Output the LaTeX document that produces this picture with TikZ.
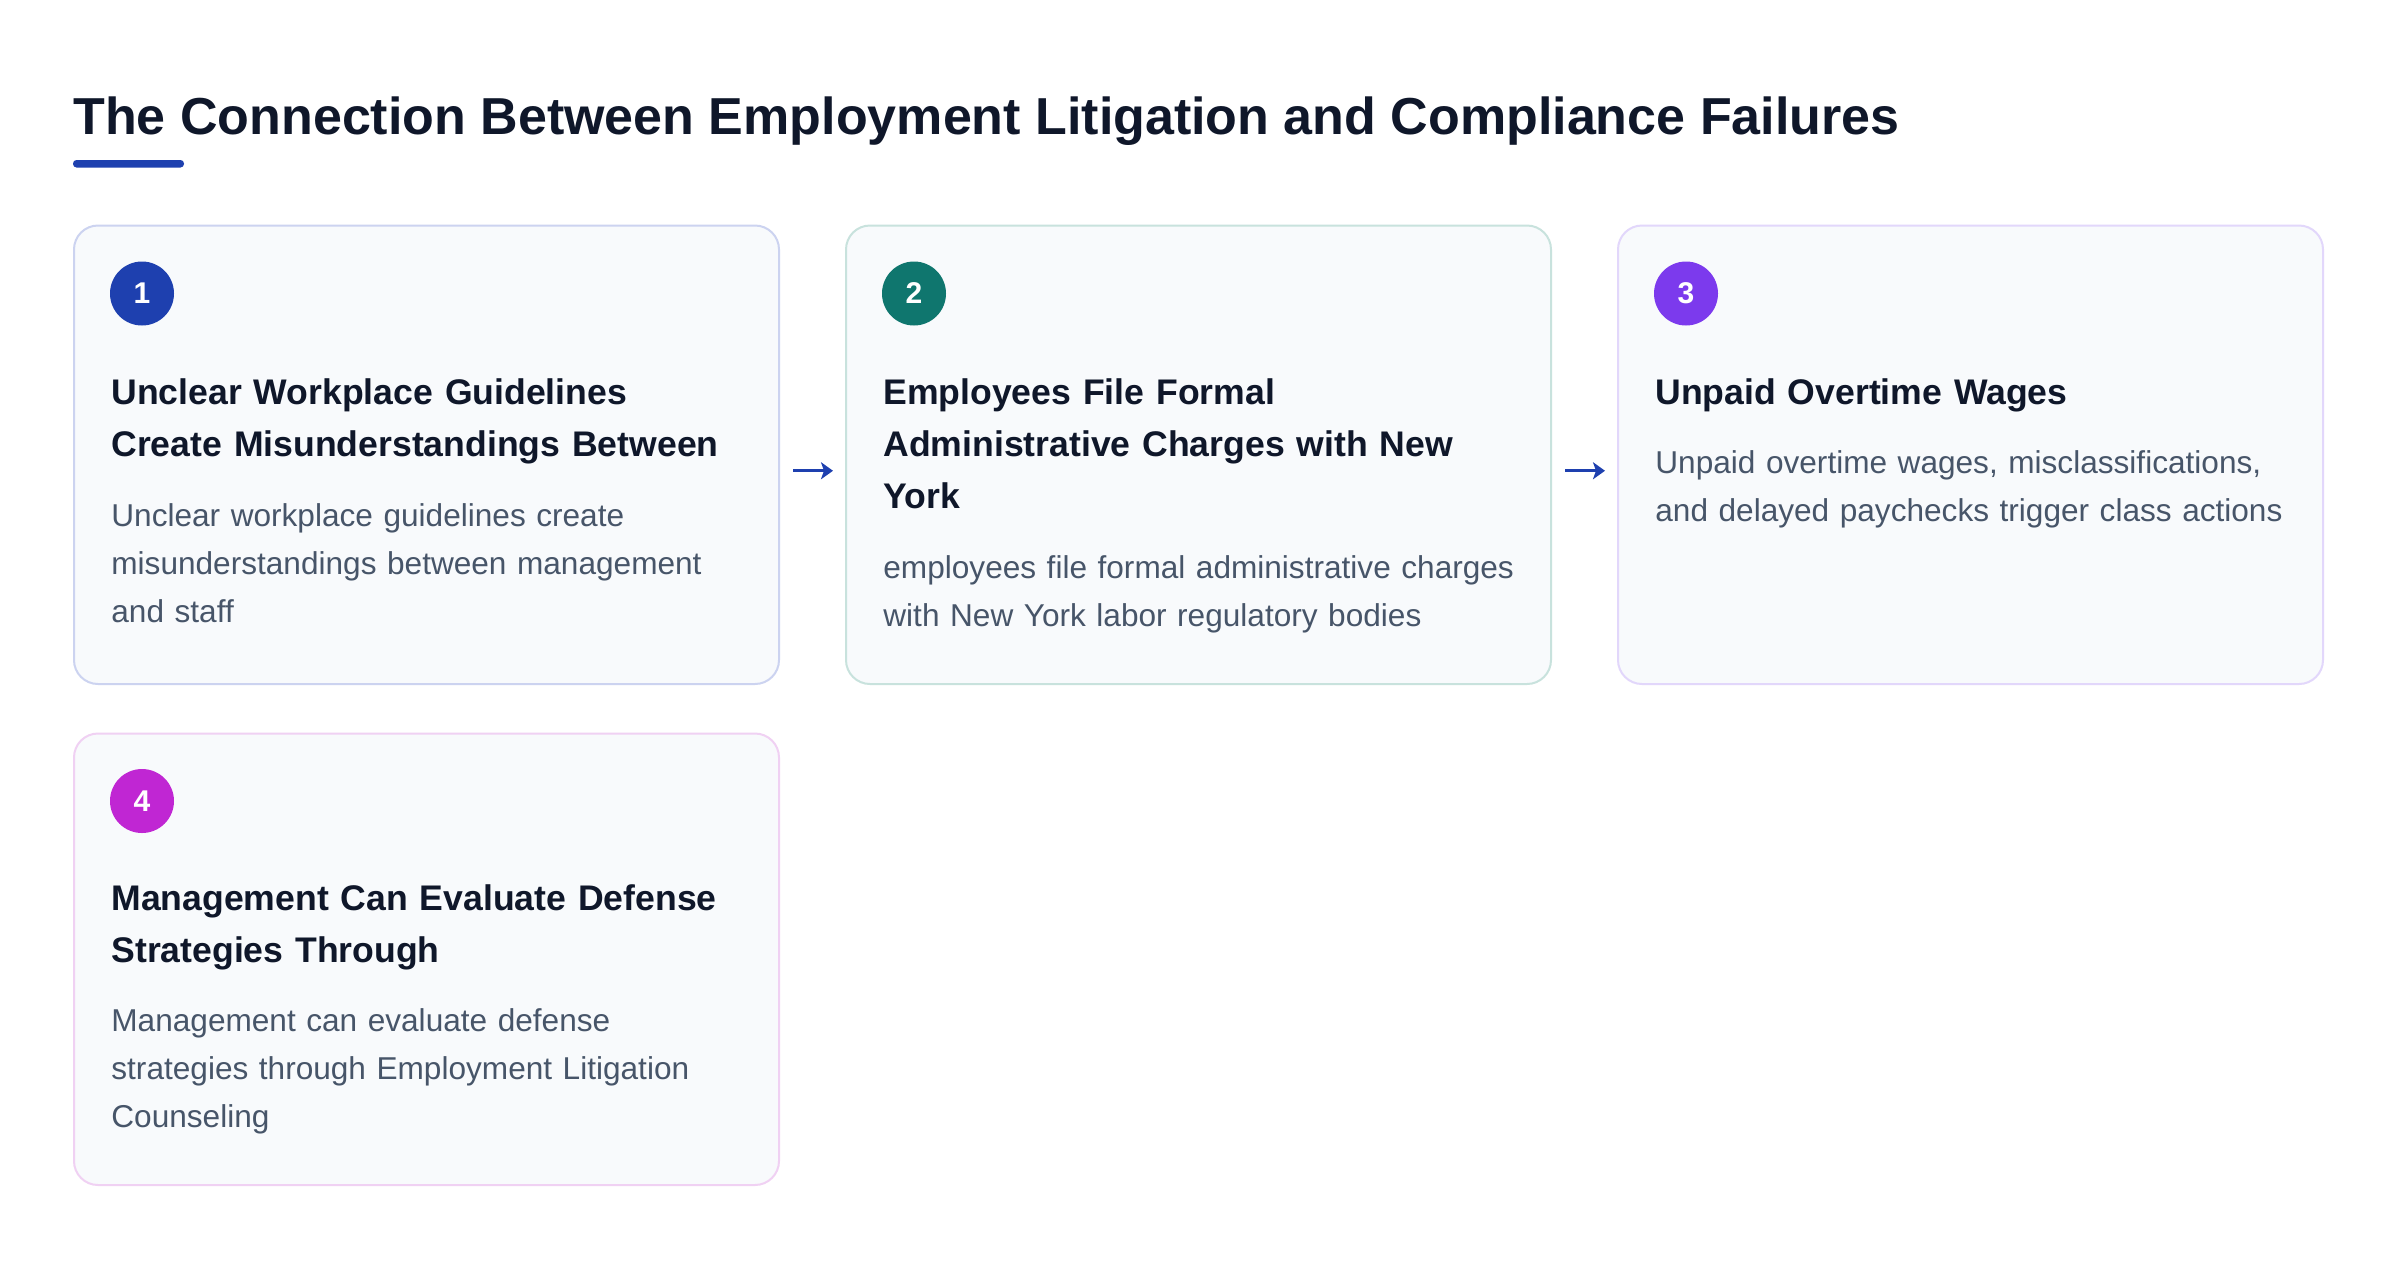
\documentclass[tikz,border=0pt]{standalone}
\usepackage{fontspec}
\setmainfont{Liberation Sans}
\usetikzlibrary{arrows.meta,calc}
\definecolor{titlec}{HTML}{0F172A}
\definecolor{headc}{HTML}{0F172A}
\definecolor{bodyc}{HTML}{475569}
\definecolor{cardfill}{HTML}{F8FAFC}
\definecolor{accent}{HTML}{1E40AF}
\definecolor{bordA}{HTML}{CCD3F0}
\definecolor{bordB}{HTML}{C8E2DD}
\definecolor{bordC}{HTML}{E2D7FB}
\definecolor{bordD}{HTML}{F0D1F3}
\definecolor{numA}{HTML}{1E40AF}
\definecolor{numB}{HTML}{0F766E}
\definecolor{numC}{HTML}{7C3AED}
\definecolor{numD}{HTML}{C026D3}
\begin{document}
\begin{tikzpicture}[x=0.5pt,y=-0.5pt,
  card/.style={draw=#1, line width=1pt, fill=cardfill, rounded corners=12pt,
    minimum width=352.5pt, anchor=north west, inner sep=0pt},
  badge/.style={circle, fill=#1, minimum size=32pt, inner sep=0pt, text=white,
    font=\bfseries\fontsize{15pt}{15pt}\selectfont},
  head/.style={anchor=base west, inner sep=0pt, text width=330pt, align=left,
    text=headc, font=\bfseries\fontsize{17.8pt}{26pt}\selectfont},
  body/.style={anchor=base west, inner sep=0pt, text width=330pt, align=left,
    text=bodyc, font=\fontsize{15.8pt}{24pt}\selectfont},
  flow/.style={draw=accent, line width=1.35pt, -{Stealth[length=6pt,width=8.5pt,inset=1.5pt]}}
]
\useasboundingbox (0,0) rectangle (2400,1260);
\fill[white] (0,0) rectangle (2400,1260);

% title
\node[anchor=base west, inner sep=0pt, text=titlec,
  font=\bfseries\fontsize{26pt}{30pt}\selectfont] (title) at (73,134)
  {The Connection Between Employment Litigation and Compliance Failures};
\fill[accent, rounded corners=1.75pt] (73,160) rectangle (184,167.5);

% cards
\node[card=bordA, minimum height=229.25pt] (c1) at (73,224.5) {};
\node[card=bordB, minimum height=229.25pt] (c2) at (845,224.5) {};
\node[card=bordC, minimum height=229.25pt] (c3) at (1617,224.5) {};
\node[card=bordD, minimum height=225.75pt] (c4) at (73,732.5) {};

% card 1
\node[badge=numA] (n1) at (142,293.5) {1};
\node[head] (h1) at (111,404) {Unclear Workplace Guidelines\\Create Misunderstandings Between};
\node[body] (b1) at (111,526) {Unclear workplace guidelines create\\misunderstandings between management\\and staff};

% card 2
\node[badge=numB] (n2) at (914,293.5) {2};
\node[head] (h2) at (883,404) {Employees File Formal\\Administrative Charges with New\\York};
\node[body] (b2) at (883,578) {employees file formal administrative charges\\with New York labor regulatory bodies};

% card 3
\node[badge=numC] (n3) at (1686,293.5) {3};
\node[head] (h3) at (1655,404) {Unpaid Overtime Wages};
\node[body] (b3) at (1655,473) {Unpaid overtime wages, misclassifications,\\and delayed paychecks trigger class actions};

% card 4
\node[badge=numD] (n4) at (142,801) {4};
\node[head] (h4) at (111,910.5) {Management Can Evaluate Defense\\Strategies Through};
\node[body] (b4) at (111,1031.5) {Management can evaluate defense\\strategies through Employment Litigation\\Counseling};

% arrows
\draw[flow] ($(c1.east)+(13,16)$) -- ($(c2.west)+(-12,16)$);
\draw[flow] ($(c2.east)+(13,16)$) -- ($(c3.west)+(-12,16)$);
\end{tikzpicture}
\end{document}
